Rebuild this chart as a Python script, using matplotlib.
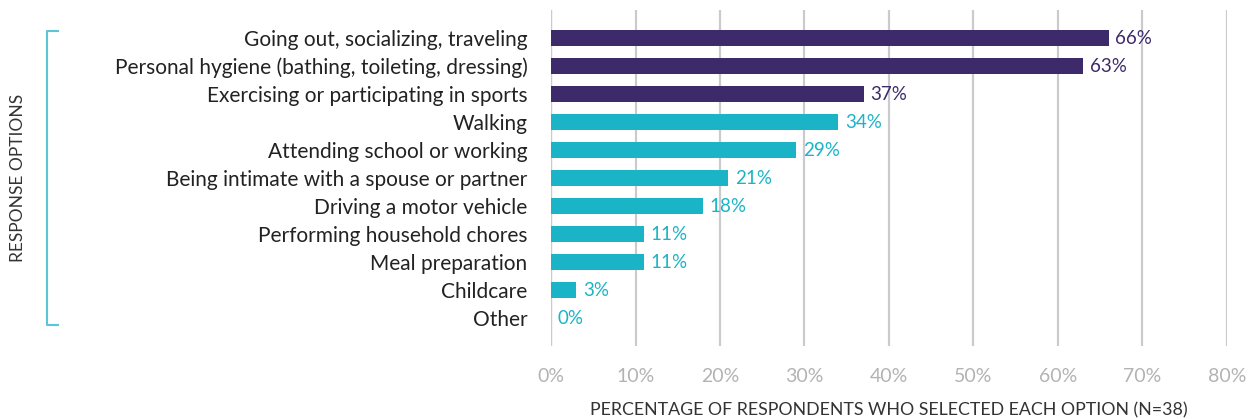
import matplotlib.pyplot as plt
import numpy as np

# survey data
labels = ['Going out, socializing, traveling',
          'Personal hygiene (bathing, toileting, dressing)',
          'Exercising or participating in sports',
          'Walking',
          'Attending school or working',
          'Being intimate with a spouse or partner',
          'Driving a motor vehicle',
          'Performing household chores',
          'Meal preparation',
          'Childcare',
          'Other']
values = [66, 63, 37, 34, 29, 21, 18, 11, 11, 3, 0]
n_top = 3  # first three in purple
xticks = [0, 10, 20, 30, 40, 50, 60, 70, 80]

purple = '#3c2a6a'
teal = '#1bb4c6'
grid_c = '#cbcbcf'

plt.rcParams['font.family'] = ['Lato', 'DejaVu Sans']

fig = plt.figure(figsize=(12.56, 4.19), dpi=100)
ax = fig.add_axes([0.4387, 0.1742, 0.5382, 0.8019])
ax.set_axisbelow(True)

y = np.arange(len(labels))
colors = [purple if i < n_top else teal for i in range(len(labels))]
ax.barh(y, values, height=0.54, color=colors, zorder=3)

for yi, v, c in zip(y, values, colors):
    ax.text(v + 0.8, yi, f'{v}%', va='center', ha='left', color=c,
            fontsize=13.5)

ax.set_xlim(0, 80)
ax.set_ylim(len(labels), -1)
ax.set_xticks(xticks)
ax.set_xticklabels([f'{t}%' for t in xticks], fontsize=14, color='#b3b3b3')
ax.set_yticks(y)
ax.set_yticklabels(labels, fontsize=15, color='#222222')
ax.tick_params(axis='y', length=0, pad=17)
ax.tick_params(axis='x', length=0, pad=16)
ax.grid(axis='x', color=grid_c, linewidth=1.6, zorder=0)
for s in ax.spines.values():
    s.set_visible(False)
ax.axvline(0, color=grid_c, linewidth=1.6, zorder=1)

# x axis title placed by hand so it stays inside the figure
fig.text(889/1256, 1 - 410/419,
         'PERCENTAGE OF RESPONDENTS WHO SELECTED EACH OPTION (N=38)',
         ha='center', va='center', fontsize=12.8, color='#333333')

# bracket on the left
fig.add_artist(plt.Line2D([58/1256, 47/1256, 47/1256, 58/1256],
                          [1 - 31/419, 1 - 31/419, 1 - 325/419, 1 - 325/419],
                          color='#5cc6d6', linewidth=1.5))
fig.text(18/1256, 1 - 178/419, 'RESPONSE OPTIONS', rotation=90, ha='center',
         va='center', fontsize=12.5, color='#333333')

fig.savefig('out.png', dpi=100)
